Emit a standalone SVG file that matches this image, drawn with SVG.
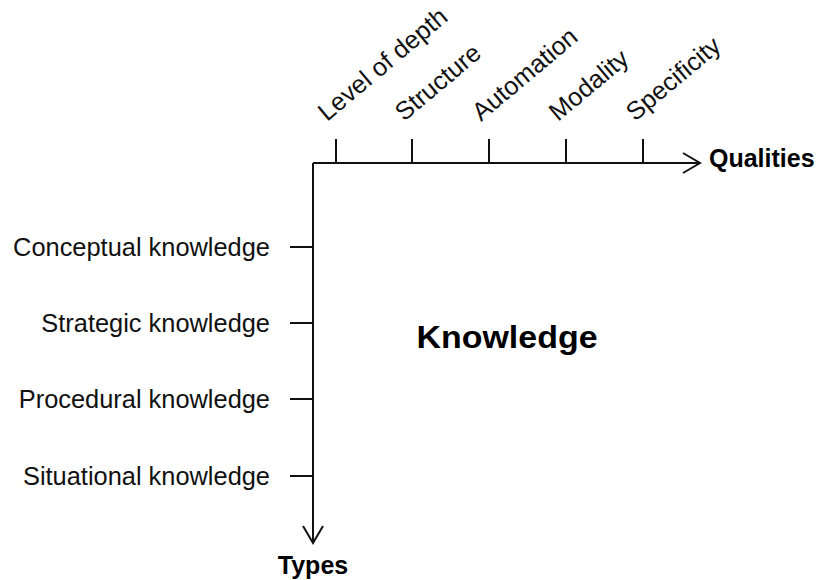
<svg xmlns="http://www.w3.org/2000/svg" width="818" height="580" viewBox="0 0 818 580">
  <defs>
    <style>
      .axis { stroke: #111; stroke-width: 2; fill: none; }
      .tick { stroke: #111; stroke-width: 2; }
      .lbl { font-family: "Liberation Sans", Arial, sans-serif; font-size: 25.4px; fill: #111; }
      .ttl { font-family: "Liberation Sans", Arial, sans-serif; font-size: 25px; font-weight: bold; fill: #000; }
      .main { font-family: "Liberation Sans", Arial, sans-serif; font-size: 32px; font-weight: bold; fill: #000; }
    </style>
    <marker id="arr" viewBox="0 0 20 24" refX="18" refY="12" markerWidth="20" markerHeight="24" markerUnits="userSpaceOnUse" orient="auto">
      <polyline points="1,2 18,12 1,22" fill="none" stroke="#111" stroke-width="2"/>
    </marker>
  </defs>
  <rect width="818" height="580" fill="#fff"/>

  <g id="connectors">
    <line id="axis-qualities" class="axis" x1="313" y1="163" x2="700" y2="163" marker-end="url(#arr)"/>
    <line id="axis-types" class="axis" x1="313" y1="163" x2="313" y2="543" marker-end="url(#arr)"/>
    <line class="tick" x1="336" y1="139" x2="336" y2="163"/>
    <line class="tick" x1="412" y1="139" x2="412" y2="163"/>
    <line class="tick" x1="489" y1="139" x2="489" y2="163"/>
    <line class="tick" x1="566" y1="139" x2="566" y2="163"/>
    <line class="tick" x1="643" y1="139" x2="643" y2="163"/>
    <line class="tick" x1="290" y1="247" x2="313" y2="247"/>
    <line class="tick" x1="290" y1="323" x2="313" y2="323"/>
    <line class="tick" x1="290" y1="399" x2="313" y2="399"/>
    <line class="tick" x1="290" y1="476" x2="313" y2="476"/>
  </g>

  <g id="node-knowledge">
    <text class="main" x="507" y="348" text-anchor="middle" textLength="181" lengthAdjust="spacingAndGlyphs">Knowledge</text>
  </g>
  <g id="node-qualities">
    <text class="ttl" x="709" y="167">Qualities</text>
  </g>
  <g id="node-types">
    <text class="ttl" x="313" y="574" text-anchor="middle">Types</text>
  </g>

  <g id="node-level-of-depth">
    <text class="lbl" transform="translate(327,122) rotate(-40)">Level of depth</text>
  </g>
  <g id="node-structure">
    <text class="lbl" transform="translate(404,122) rotate(-40)">Structure</text>
  </g>
  <g id="node-automation">
    <text class="lbl" transform="translate(481,122) rotate(-40)">Automation</text>
  </g>
  <g id="node-modality">
    <text class="lbl" transform="translate(558,122) rotate(-40)">Modality</text>
  </g>
  <g id="node-specificity">
    <text class="lbl" transform="translate(635,122) rotate(-40)">Specificity</text>
  </g>

  <g id="node-conceptual">
    <text class="lbl" x="270" y="256" text-anchor="end">Conceptual knowledge</text>
  </g>
  <g id="node-strategic">
    <text class="lbl" x="270" y="332" text-anchor="end">Strategic knowledge</text>
  </g>
  <g id="node-procedural">
    <text class="lbl" x="270" y="408" text-anchor="end">Procedural knowledge</text>
  </g>
  <g id="node-situational">
    <text class="lbl" x="270" y="485" text-anchor="end">Situational knowledge</text>
  </g>
</svg>
